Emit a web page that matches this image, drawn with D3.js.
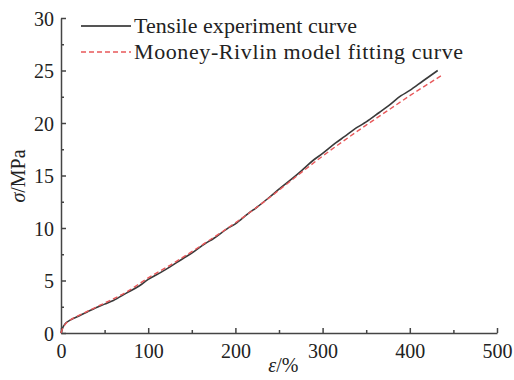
<!DOCTYPE html>
<html>
<head>
<meta charset="utf-8">
<script src="https://cdn.jsdelivr.net/npm/d3@7"></script>
<style>
  body { margin: 0; background: #fff; }
  svg text { font-family: "Liberation Serif", "Times New Roman", serif; fill: #222; }
</style>
</head>
<body>
<div id="chart"></div>
<script>
// strain (%) and stress (MPa)
var expStrain = [0, 2, 5, 10, 20, 30, 40, 50, 60, 75, 90, 100, 115, 125, 140, 150, 165, 175, 190, 200, 215, 225, 240, 250, 265, 275, 290, 300, 315, 325, 340, 350, 365, 375, 390, 400, 415, 432];
var expStress = [0, 0.5, 0.9, 1.2, 1.6, 2.0, 2.4, 2.75, 3.1, 3.8, 4.5, 5.1, 5.8, 6.3, 7.1, 7.6, 8.5, 9.0, 9.9, 10.4, 11.4, 12.0, 13.0, 13.7, 14.7, 15.4, 16.5, 17.1, 18.1, 18.7, 19.6, 20.1, 21.0, 21.6, 22.6, 23.1, 24.0, 25.0];
var fitStrain = [0, 2, 5, 10, 20, 30, 40, 50, 60, 75, 100, 125, 150, 175, 200, 225, 250, 275, 300, 325, 350, 375, 400, 436];
var fitStress = [0, 0.45, 0.85, 1.2, 1.65, 2.05, 2.45, 2.85, 3.25, 3.9, 5.25, 6.45, 7.75, 9.1, 10.5, 12.0, 13.6, 15.25, 16.85, 18.35, 19.8, 21.2, 22.6, 24.5];

var xTicks = [0, 100, 200, 300, 400, 500];
var yTicks = [0, 5, 10, 15, 20, 25, 30];
var legendLabels = ["Tensile experiment curve", "Mooney-Rivlin model fitting curve"];

var width = 514, height = 380;
var margin = {left: 61, right: 17, top: 18, bottom: 47};
var serif = "'Liberation Serif', 'Times New Roman', serif";

var svg = d3.select("#chart").append("svg")
  .attr("width", width)
  .attr("height", height)
  .attr("font-family", serif);

var x = d3.scaleLinear().domain([0, 500]).range([margin.left, width - margin.right]);
var y = d3.scaleLinear().domain([0, 30]).range([height - margin.bottom, margin.top]);

var axisColor = "#444";

// x axis, ticks point inward
var gx = svg.append("g")
  .attr("transform", "translate(0," + y(0) + ")");
gx.call(d3.axisBottom(x).tickValues(d3.range(0, 501, 50)).tickSizeInner(-3).tickSizeOuter(0).tickFormat(""));
gx.attr("font-family", serif);
gx.selectAll(".tick line").filter(function(d){ return d % 100 === 0; }).attr("y2", -5);
gx.selectAll("path, line").attr("stroke", axisColor).attr("stroke-width", 1.5);
gx.selectAll(".tick").filter(function(d){ return xTicks.indexOf(d) >= 0; })
  .append("text")
  .attr("y", 25)
  .attr("text-anchor", "middle")
  .style("font-size", "20px")
  .style("font-family", serif)
  .attr("fill", "#222")
  .text(function(d){ return d; });

// y axis
var gy = svg.append("g")
  .attr("transform", "translate(" + x(0) + ",0)");
gy.call(d3.axisLeft(y).tickValues(d3.range(0, 30.1, 2.5)).tickSizeInner(-3).tickSizeOuter(0).tickFormat(""));
gy.attr("font-family", serif);
gy.selectAll(".tick line").filter(function(d){ return d % 5 === 0; }).attr("x2", 5);
gy.selectAll("path, line").attr("stroke", axisColor).attr("stroke-width", 1.5);
gy.selectAll(".tick").filter(function(d){ return yTicks.indexOf(d) >= 0; })
  .append("text")
  .attr("x", -7)
  .attr("dy", "0.35em")
  .attr("text-anchor", "end")
  .style("font-size", "20px")
  .style("font-family", serif)
  .attr("fill", "#222")
  .text(function(d){ return d; });

// axis titles
var yt = svg.append("text")
  .attr("transform", "translate(25,176) rotate(-90)")
  .attr("text-anchor", "middle")
  .style("font-size", "20px");
yt.append("tspan").style("font-style", "italic").text("σ");
yt.append("tspan").text("/MPa");

var xt = svg.append("text")
  .attr("x", x(255))
  .attr("y", 372)
  .attr("text-anchor", "middle")
  .style("font-size", "20px");
xt.append("tspan").style("font-style", "italic").text("ε");
xt.append("tspan").text("/%");

// curves
var line = d3.line()
  .x(function(d){ return x(d[0]); })
  .y(function(d){ return y(d[1]); })
  .curve(d3.curveMonotoneX);

svg.append("path")
  .datum(d3.zip(expStrain, expStress))
  .attr("fill", "none")
  .attr("stroke", "#3a3a3a")
  .attr("stroke-width", 1.6)
  .attr("d", line);

svg.append("path")
  .datum(d3.zip(fitStrain, fitStress))
  .attr("fill", "none")
  .attr("stroke", "#e8585a")
  .attr("stroke-width", 1.4)
  .attr("stroke-dasharray", "5,3")
  .attr("d", line);

// legend
var legend = svg.append("g");
var legendStyles = [
  {stroke: "#555", dash: null, w: 2, len: 223},
  {stroke: "#e8585a", dash: "5,3", w: 1.4, len: 329}
];
legendLabels.forEach(function(lbl, i){
  var ly = 26 + i * 26;
  legend.append("line")
    .attr("x1", 81).attr("x2", 131)
    .attr("y1", ly).attr("y2", ly)
    .attr("stroke", legendStyles[i].stroke)
    .attr("stroke-width", legendStyles[i].w)
    .attr("stroke-dasharray", legendStyles[i].dash);
  legend.append("text")
    .attr("x", 134)
    .attr("y", ly + 7)
    .attr("textLength", legendStyles[i].len)
    .attr("lengthAdjust", "spacing")
    .style("font-size", "22px")
    .text(lbl);
});
</script>
</body>
</html>
